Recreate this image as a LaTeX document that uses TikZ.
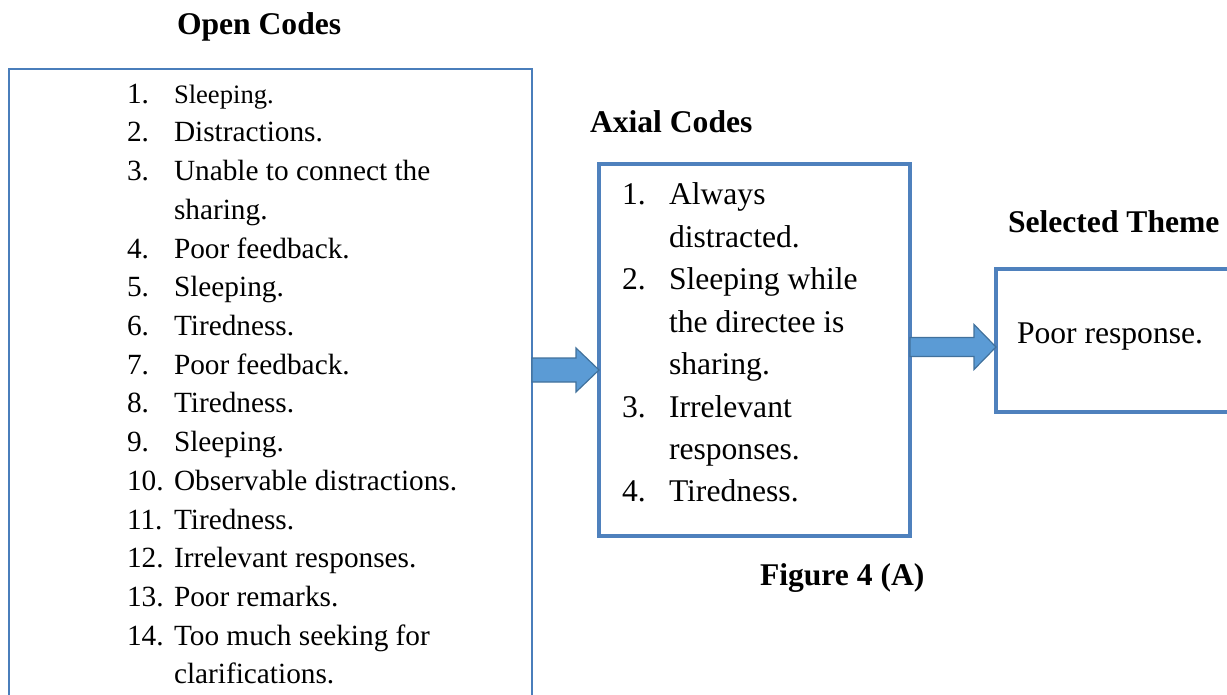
\documentclass[tikz,border=0pt]{standalone}
\usepackage{fontspec}
\setmainfont{Liberation Serif}
\usetikzlibrary{positioning}
\usetikzlibrary{calc}

\definecolor{boxblue}{HTML}{4F81BD}
\definecolor{lineblue}{HTML}{4A7EBB}
\definecolor{arrowfill}{HTML}{5B9BD5}
\definecolor{arrowline}{HTML}{41719C}

% fat block arrow: from, to, shaft half width, head half width, head length
\newcommand{\fatarrow}[5]{%
  \filldraw[fat arrow] ($(#1)+(0,-#3)$) -- ($(#2)+(-#5,-#3)$) -- ($(#2)+(-#5,-#4)$)
    -- (#2) -- ($(#2)+(-#5,#4)$) -- ($(#2)+(-#5,#3)$) -- ($(#1)+(0,#3)$) -- cycle;}

\begin{document}
\begin{tikzpicture}[x=1pt,y=-1pt,inner sep=0pt,outer sep=0pt]
			\tikzstyle{title}=[anchor=base west,font=\fontsize{31.6}{38}\selectfont\bfseries]
			\tikzstyle{codebox}=[draw=boxblue,line width=4.5pt,anchor=north west]
			\tikzstyle{opentext}=[anchor=base west,font=\fontsize{29.3}{38.7}\selectfont]
			\tikzstyle{axialtext}=[anchor=base west,font=\fontsize{31.6}{42.4}\selectfont]
			\tikzstyle{fat arrow}=[fill=arrowfill,draw=arrowline,line width=1.2pt,line join=miter]
			
			\useasboundingbox (0,0) rectangle (1227,695);
			\clip (0,0) rectangle (1227,695);
			
			% boxes
			\node[draw=lineblue,line width=2.8pt,minimum width=523,minimum height=700,anchor=north west] (open) at (9,69) {};
			\node[codebox,minimum width=311,minimum height=372] (axial) at (599,164) {};
			\node[codebox,minimum width=300,minimum height=143] (theme) at (996,269) {};
			
			% titles
			\node[title] (opentitle)  at (177,35)  {Open Codes};
			\node[title] (axialtitle) at (590,133) {Axial Codes};
			\node[title] (themetitle) at (1008,233) {Selected Theme};
			\node[title] (figcap)     at (760,585) {Figure 4 (A)};
			
			% open codes
			\node[opentext] (on0) at (127,104) {1.};
			\node[opentext,font=\fontsize{26.6}{36}\selectfont] (ot0) at (174,104) {Sleeping.};
			\foreach \num/\txt [count=\i] in {2./Distractions., 3./Unable to connect the, /sharing.,
				4./Poor feedback., 5./Sleeping., 6./Tiredness., 7./Poor feedback., 8./Tiredness.,
				9./Sleeping., 10./Observable distractions., 11./Tiredness., 12./Irrelevant responses.,
				13./Poor remarks., 14./Too much seeking for, /clarifications.}
			{
				\node[opentext] (on\i) at (127,{142+38.7*(\i-1)}) {\num};
				\node[opentext] (ot\i) at (174,{142+38.7*(\i-1)}) {\txt};
			}
			
			% axial codes
			\foreach \num/\txt [count=\i] in {1./Always, /distracted., 2./Sleeping while, /the directee is,
				/sharing., 3./Irrelevant, /responses., 4./Tiredness.}
			{
				\node[axialtext] (an\i) at (622,{205+42.4*(\i-1)}) {\num};
				\node[axialtext] (at\i) at (669,{205+42.4*(\i-1)}) {\txt};
			}
			
			% selected theme
			\node[axialtext] (themetext) at (1017,343) {Poor response.};
			
			% arrows
			\coordinate (a1from) at (open.east |- 0,370);
			\coordinate (a1to)   at (axial.west |- a1from);
			\coordinate (a2from) at (axial.east |- 0,347);
			\coordinate (a2to)   at (theme.west |- a2from);
			\fatarrow{a1from}{a1to}{12}{22}{23}
			\fatarrow{a2from}{a2to}{9.5}{22.5}{22}
			
\end{tikzpicture}
\end{document}
